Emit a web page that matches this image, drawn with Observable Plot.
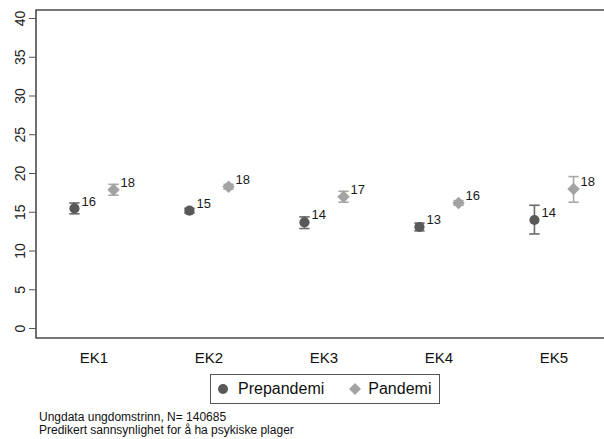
<!DOCTYPE html>
<html>
<head>
<meta charset="utf-8">
<script src="https://cdn.jsdelivr.net/npm/d3@7"></script>
<script src="https://cdn.jsdelivr.net/npm/@observablehq/plot@0.6"></script>
<style>
  html, body { margin: 0; padding: 0; background: #fff; overflow: hidden; }
  #wrap { position: relative; width: 604px; height: 439px; overflow: hidden; font-family: "Liberation Sans", Arial, sans-serif; }
  #legend { position: absolute; left: 210px; top: 374px; width: 228px; height: 28px; border: 1px solid #555; box-sizing: content-box; display: flex; align-items: center; font-size: 16px; color: #111; }
  #legend .item { display: flex; align-items: center; }
  #caption { position: absolute; left: 39px; top: 411px; font-size: 12px; line-height: 13px; color: #111; }
</style>
</head>
<body>
<div id="wrap">
  <div id="chart"></div>
  <div id="legend"></div>
  <div id="caption"></div>
</div>
<script>
const categories = ["EK1", "EK2", "EK3", "EK4", "EK5"];
const seriesNames = ["Prepandemi", "Pandemi"];
const preValue = [15.5, 15.2, 13.7, 13.1, 14.0];
const preLow   = [14.8, 14.9, 12.9, 12.6, 12.2];
const preHigh  = [16.2, 15.5, 14.4, 13.6, 15.9];
const panValue = [17.9, 18.3, 17.0, 16.2, 18.0];
const panLow   = [17.2, 18.0, 16.3, 15.9, 16.3];
const panHigh  = [18.6, 18.6, 17.7, 16.5, 19.6];
const yTicks = [0, 5, 10, 15, 20, 25, 30, 35, 40];
const captionLines = ["Ungdata ungdomstrinn, N= 140685", "Predikert sannsynlighet for å ha psykiske plager"];

const colors = {Prepandemi: "#595959", Pandemi: "#a3a3a3"};
const barColors = {Prepandemi: "#6a6a6a", Pandemi: "#a8a8a8"};
const offsets = {Prepandemi: -0.17, Pandemi: 0.17};

const rows = [];
categories.forEach((c, i) => {
  rows.push({cat: c, idx: i + 1, series: "Prepandemi", v: preValue[i], lo: preLow[i], hi: preHigh[i]});
  rows.push({cat: c, idx: i + 1, series: "Pandemi", v: panValue[i], lo: panLow[i], hi: panHigh[i]});
});
const px = d => d.idx + offsets[d.series];
const capHalf = 0.045;
const font = "Liberation Sans, Arial, sans-serif";

// open frame: top, bottom and left sides only (drawn from the plot's dimensions)
function openFrame(index, scales, values, dims) {
  const {width, height, marginLeft, marginRight, marginTop, marginBottom} = dims;
  const x0 = marginLeft, x1 = width - marginRight, y0 = marginTop, y1 = height - marginBottom;
  const path = d3.create("svg:path")
    .attr("d", `M${x1},${y0}H${x0}V${y1}H${x1}`)
    .attr("fill", "none")
    .attr("stroke", "#4a4a4a")
    .attr("stroke-width", 1.6);
  return path.node();
}

const chart = Plot.plot({
  width: 604,
  height: 368,
  marginLeft: 36,
  marginRight: 0,
  marginTop: 10,
  marginBottom: 30,
  style: {fontFamily: font, background: "#fff"},
  x: {domain: [0.5, 5.5], range: [36, 611], axis: null},
  y: {domain: [0, 40], range: [328, 18], axis: null},
  marks: [
    openFrame,
    Plot.axisY({ticks: yTicks, tickSize: 7, tickFormat: () => "", stroke: "#555", anchor: "left"}),
    Plot.text(yTicks, {y: d => d, text: d => String(d), frameAnchor: "left", dx: -16, rotate: -90, textAnchor: "middle", lineAnchor: "middle", fontSize: 14, fill: "#222"}),
    Plot.text(categories, {x: (d, i) => i + 1, text: d => d, frameAnchor: "bottom", dy: 20, lineAnchor: "middle", fontSize: 15, fill: "#111"}),
    Plot.ruleX(rows, {x: px, y1: "lo", y2: "hi", stroke: d => barColors[d.series], strokeWidth: 1.6}),
    Plot.link(rows, {x1: d => px(d) - capHalf, x2: d => px(d) + capHalf, y1: "lo", y2: "lo", stroke: d => barColors[d.series], strokeWidth: 1.6}),
    Plot.link(rows, {x1: d => px(d) - capHalf, x2: d => px(d) + capHalf, y1: "hi", y2: "hi", stroke: d => barColors[d.series], strokeWidth: 1.6}),
    Plot.dot(rows.filter(d => d.series === "Prepandemi"), {x: px, y: "v", r: 5.1, fill: colors.Prepandemi, stroke: "none", symbol: "circle"}),
    Plot.dot(rows.filter(d => d.series === "Pandemi"), {x: px, y: "v", r: 5.6, fill: colors.Pandemi, stroke: "none", symbol: "diamond2"}),
    Plot.text(rows, {x: px, y: "v", text: d => String(Math.round(d.v)), dx: 7, dy: -7, textAnchor: "start", fontSize: 13, fill: "#1a1a1a"})
  ]
});
document.getElementById("chart").appendChild(chart);

// legend
const legend = document.getElementById("legend");
const legendSym = {
  Prepandemi: '<svg width="12" height="12" style="margin-left:6px;margin-right:9px"><circle cx="6" cy="6" r="5" fill="' + colors.Prepandemi + '"/></svg>',
  Pandemi: '<svg width="14" height="14" style="margin-left:24px;margin-right:6px"><path d="M7,1L13,7L7,13L1,7Z" fill="' + colors.Pandemi + '"/></svg>'
};
seriesNames.forEach(s => {
  const el = document.createElement("div");
  el.className = "item";
  el.innerHTML = legendSym[s] + "<span>" + s + "</span>";
  legend.appendChild(el);
});
document.getElementById("caption").innerHTML = captionLines.join("<br>");
</script>
</body>
</html>
